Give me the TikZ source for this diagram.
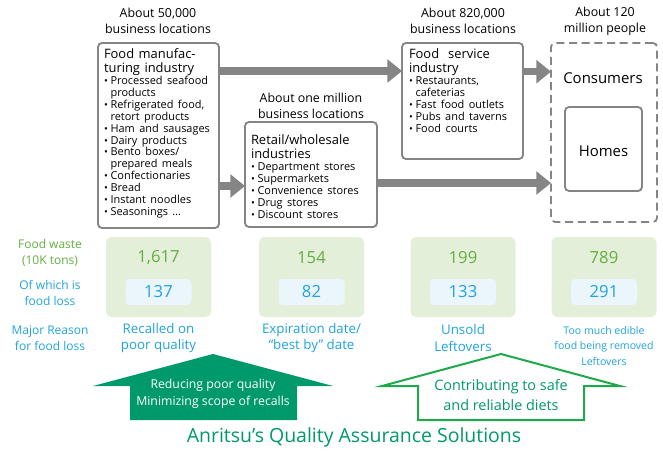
\documentclass[tikz,border=0pt]{standalone}
\usepackage{fontspec}
\setmainfont{Open Sans}
\usetikzlibrary{arrows.meta}

\definecolor{boxgray}{HTML}{858585}
\definecolor{wastegreen}{HTML}{E3EFD9}
\definecolor{numgreen}{HTML}{63AF3F}
\definecolor{lossblue}{HTML}{1FA3DD}
\definecolor{lightblue}{HTML}{EBF5FC}
\definecolor{qagreen}{HTML}{00996B}
\definecolor{linegreen}{HTML}{1EAA4C}

\newcommand{\itm}{\par\noindent\makebox[0.6em][l]{\fontsize{7.6}{7.6}\selectfont\textbullet}}
\newcommand{\cnt}{\\\hspace*{0.6em}}

\begin{document}
\begin{tikzpicture}[x=0.75pt, y=-0.75pt,
  every node/.style={inner sep=0pt, outer sep=0pt},
  hdr/.style={align=center, font=\fontsize{9.3}{12}\selectfont},
  sbox/.style={draw=boxgray, line width=1.4pt, rounded corners=3pt, fill=white},
  flow/.style={draw=boxgray, line width=5.5pt, -{Triangle[length=11pt, width=17pt]}},
  wbox/.style={fill=wastegreen, rounded corners=4pt, minimum width=78.75pt, minimum height=60pt},
  lbox/.style={fill=lightblue, rounded corners=3pt, minimum width=49.5pt, minimum height=19.5pt},
  wnum/.style={text=numgreen, font=\fontsize{12.5}{14}\selectfont},
  lnum/.style={text=lossblue, font=\fontsize{12.5}{14}\selectfont},
  lbl/.style={align=center, text=lossblue, font=\fontsize{9}{12.4}\selectfont},
  rsn/.style={align=center, text=lossblue, font=\fontsize{10}{12.6}\selectfont}]
\useasboundingbox (0,0) rectangle (663,454);

% headers
\node[hdr] (h1) at (158,21) {About 50,000\\business locations};
\node[hdr] (h2) at (311,106) {About one million\\business locations};
\node[hdr] (h3) at (463,21) {About 820,000\\business locations};
\node[hdr] (h4) at (605,21) {About 120\\million people};

% industry boxes
\node[sbox, minimum width=90.75pt, minimum height=138.75pt] (manuf) at (158.5,135.5) {};
\node[sbox, minimum width=99pt, minimum height=78.75pt] (retail) at (311,174.5) {};
\node[sbox, minimum width=90.75pt, minimum height=87pt] (service) at (462.5,101) {};
\node[draw=boxgray, line width=1.4pt, dash pattern=on 6pt off 3.5pt, rounded corners=3pt, minimum width=79.5pt, minimum height=134.25pt] (cons) at (604,132.5) {};
\node[sbox, minimum width=57.75pt, minimum height=63pt] (homes) at (603.5,149) {};

\node[anchor=north west, text width=88pt] (manuftxt) at (104,49) {%
  {\fontsize{9.7}{10.5}\selectfont Food manufac-\\turing industry\par}
  \fontsize{8.2}{8.9}\selectfont
  \itm Processed seafood\cnt products
  \itm Refrigerated food,\cnt retort products
  \itm Ham and sausages
  \itm Dairy products
  \itm Bento boxes/\cnt prepared meals
  \itm Confectionaries
  \itm Bread
  \itm Instant noodles
  \itm Seasonings \dots\par};
\node[anchor=north west, text width=96pt] (retailtxt) at (251,135) {%
  {\fontsize{9.7}{10.5}\selectfont Retail/wholesale\\industries\par}
  \fontsize{8.2}{8.9}\selectfont
  \itm Department stores
  \itm Supermarkets
  \itm Convenience stores
  \itm Drug stores
  \itm Discount stores\par};
\node[anchor=north west, text width=88pt] (servicetxt) at (409,49) {%
  {\fontsize{9.7}{10.5}\selectfont Food\ \ service\\industry\par}
  \fontsize{8.2}{8.9}\selectfont
  \itm Restaurants,\cnt cafeterias
  \itm Fast food outlets
  \itm Pubs and taverns
  \itm Food courts\par};
\node[font=\fontsize{11.2}{13}\selectfont] (constxt) at (603,78) {Consumers};
\node[font=\fontsize{11.2}{13}\selectfont] (homestxt) at (603.5,151) {Homes};

% flows
\coordinate (a1) at ([yshift=-21pt]manuf.north east);
\coordinate (a2) at ([yshift=31.5pt]manuf.south east);
\coordinate (a3) at ([yshift=-21.5pt]service.north east);
\coordinate (a4) at ([yshift=-45.75pt]retail.north east);
\draw[flow] (a1) -- (a1 -| service.west);
\draw[flow] (a2) -- (a2 -| retail.west);
\draw[flow] (a3) -- (a3 -| cons.west);
\draw[flow] (a4) -- (a4 -| cons.west);

% food waste figures
\node[lbl, text=numgreen] (wastelbl) at (50,253) {Food waste\\(10K tons)};
\node[lbl] (losslbl) at (50,293) {Of which is\\food loss};
\node[lbl] (reasonlbl) at (50,338) {Major Reason\\for food loss};

\node[wbox] (w1) at (158.5,277) {};
\node[wbox] (w2) at (311.5,277) {};
\node[wbox] (w3) at (463,277) {};
\node[wbox] (w4) at (604,277) {};
\node[wnum] (n1) at (158.5,258) {1,617};
\node[wnum] (n2) at (311.5,258) {154};
\node[wnum] (n3) at (463,258) {199};
\node[wnum] (n4) at (604,258) {789};
\node[lbox] (l1) at (158.5,292) {};
\node[lbox] (l2) at (311.5,292) {};
\node[lbox] (l3) at (463,292) {};
\node[lbox] (l4) at (604,292) {};
\node[lnum] (m1) at (158.5,292) {137};
\node[lnum] (m2) at (311.5,292) {82};
\node[lnum] (m3) at (463,292) {133};
\node[lnum] (m4) at (604,292) {291};

\node[rsn] (r1) at (158.5,338) {Recalled on\\poor quality};
\node[rsn] (r2) at (311.5,338) {Expiration date/\\``best by'' date};
\node[rsn] (r3) at (463,338) {Unsold\\Leftovers};
\node[rsn, font=\fontsize{7.9}{11.8}\selectfont] (r4) at (604,346) {Too much edible\\food being removed\\Leftovers};

% quality assurance arrows
\fill[qagreen] (213,354) -- (333,386) -- (297,386) -- (297,420) -- (130,420) -- (130,386) -- (93,386) -- cycle;
\draw[linegreen, line width=1.5pt, fill=white] (501,354) -- (620,386) -- (584,386) -- (584,420) -- (418,420) -- (418,386) -- (382,386) -- cycle;
\node[align=center, text=white, font=\fontsize{9.2}{12.8}\selectfont] (qa1) at (213,394) {Reducing poor quality\\Minimizing scope of recalls};
\node[align=center, text=qagreen, font=\fontsize{10.8}{15}\selectfont] (qa2) at (501,395) {Contributing to safe\\and reliable diets};

\node[text=qagreen, font=\fontsize{14.6}{16}\selectfont] (title) at (354,437) {Anritsu's Quality Assurance Solutions};
\end{tikzpicture}
\end{document}
